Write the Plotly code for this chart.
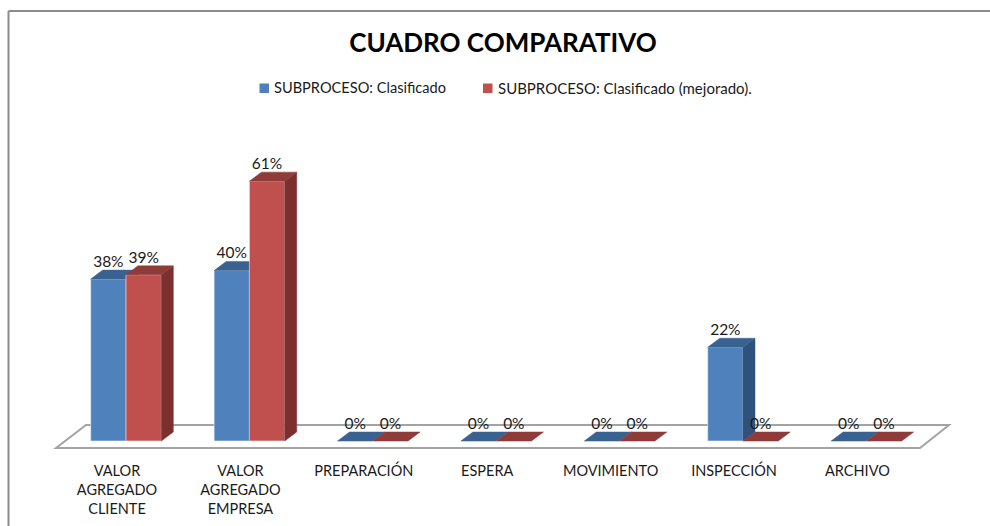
import plotly.graph_objects as go

categories = [
    "VALOR<br>AGREGADO<br>CLIENTE",
    "VALOR<br>AGREGADO<br>EMPRESA",
    "PREPARACIÓN",
    "ESPERA",
    "MOVIMIENTO",
    "INSPECCIÓN",
    "ARCHIVO",
]
clasificado = [38, 40, 0, 0, 0, 22, 0]
mejorado = [39, 61, 0, 0, 0, 0, 0]
serie_names = ["SUBPROCESO: Clasificado", "SUBPROCESO: Clasificado (mejorado)."]

FONT = "Lato, Carlito, Calibri, sans-serif"
TEXT = "#1a1a1a"
BLUE = "#4F81BD"
RED = "#C0504D"

# figure scale: one category = 123.4 px, one percent = 4.26 px
PX_X = 123.4
PX_Y = 4.26
BAR_W = 35.3 / PX_X
DEPTH_X = 12 / PX_X
DEPTH_Y = 9 / PX_Y
BOTTOM_PX = 455
PLOT_H = BOTTOM_PX

x_range = [-126 / PX_X, (990 - 126) / PX_X]
y_range = [(441 - BOTTOM_PX) / PX_Y, 441 / PX_Y]


def faces(values, offset):
    """Top and side faces of the 3d bars, as fill polygons with gaps."""
    top_x, top_y, side_x, side_y = [], [], [], []
    for i, v in enumerate(values):
        left = i + offset
        right = left + BAR_W
        top_x += [left, left + DEPTH_X, right + DEPTH_X, right, left, None]
        top_y += [v, v + DEPTH_Y, v + DEPTH_Y, v, v, None]
        if v > 0:
            side_x += [right, right + DEPTH_X, right + DEPTH_X, right, right, None]
            side_y += [v, v + DEPTH_Y, DEPTH_Y, 0, v, None]
    return top_x, top_y, side_x, side_y


def add_series(fig, values, name, offset, front, top, side, xaxis, yaxis):
    positions = list(range(len(values)))
    fig.add_trace(go.Bar(
        x=positions,
        y=values,
        name=name,
        width=BAR_W,
        offset=offset,
        marker=dict(color=front, line=dict(color="rgba(235,240,248,0.6)", width=1)),
        xaxis=xaxis,
        yaxis=yaxis,
    ))
    top_x, top_y, side_x, side_y = faces(values, offset)
    for fx, fy, color in [(side_x, side_y, side), (top_x, top_y, top)]:
        fig.add_trace(go.Scatter(
            x=fx,
            y=fy,
            mode="lines",
            fill="toself",
            fillcolor=color,
            line=dict(color=color, width=0.5),
            hoverinfo="skip",
            xaxis=xaxis,
            yaxis=yaxis,
        ))


fig = go.Figure()
add_series(fig, clasificado, serie_names[0], -BAR_W, BLUE, "#3A6291", "#2F527D", "x", "y")
add_series(fig, mejorado, serie_names[1], 0, RED, "#8F3B39", "#7B302E", "x2", "y2")

# data labels sit above the back edge of each bar
for values, shift in [(clasificado, -BAR_W / 2), (mejorado, BAR_W / 2)]:
    fig.add_trace(go.Scatter(
        x=[i + shift for i in range(len(values))],
        y=[v + 16 / PX_Y for v in values],
        mode="text",
        text=[f"{v}%" for v in values],
        textposition="middle center",
        textfont=dict(family=FONT, size=15.5, color=TEXT),
        hoverinfo="skip",
        xaxis="x2",
        yaxis="y2",
    ))

# floor of the 3d plot
floor_y0 = (441 - 448) / PX_Y
floor_y1 = (441 - 425) / PX_Y
fl = (56 - 126) / PX_X
fr = (920 - 126) / PX_X
bl = (86 - 126) / PX_X
br = (949 - 126) / PX_X
fig.add_shape(
    type="path",
    path=f"M {fl} {floor_y0} L {bl} {floor_y1} L {br} {floor_y1} L {fr} {floor_y0} Z",
    xref="x",
    yref="y",
    line=dict(color="#A3A3A3", width=2),
    fillcolor="white",
    layer="below",
)

# chart area frame, only top and left are inside the crop
frame_top = 1 - 11 / PLOT_H
frame_bottom = (BOTTOM_PX - 526) / PLOT_H
for x0, y0, x1, y1 in [
    (8.5 / 990, frame_top, 1, frame_top),
    (8.5 / 990, frame_top, 8.5 / 990, frame_bottom),
]:
    fig.add_shape(
        type="line", xref="paper", yref="paper",
        x0=x0, y0=y0, x1=x1, y1=y1,
        line=dict(color="#8C8C8C", width=2),
    )

# legend by hand, the native key sits too far from its text
for name, color, key_x, text_x, size in [
    (serie_names[0], BLUE, 259.5, 273, 14.6),
    (serie_names[1], RED, 483, 497, 15),
]:
    fig.add_shape(
        type="rect", xref="paper", yref="paper",
        x0=key_x / 990, x1=(key_x + 9.5) / 990,
        y0=1 - 93 / PLOT_H, y1=1 - 83.5 / PLOT_H,
        fillcolor=color,
        line=dict(width=0),
    )
    fig.add_annotation(
        text=name, xref="paper", yref="paper",
        x=text_x / 990, y=1 - 88 / PLOT_H,
        xanchor="left", yanchor="middle",
        showarrow=False,
        borderpad=0,
        font=dict(family=FONT, size=size, color=TEXT),
    )

fig.update_layout(
    width=990,
    height=526,
    margin=dict(l=0, r=0, t=0, b=526 - BOTTOM_PX, pad=0),
    paper_bgcolor="white",
    plot_bgcolor="white",
    font=dict(family=FONT, size=15, color=TEXT),
    showlegend=False,
    title=dict(
        text="<b>CUADRO COMPARATIVO</b>",
        font=dict(family=FONT, size=26, color="black"),
        x=503 / 990,
        xanchor="center",
        y=1 - 43 / 526,
        yanchor="middle",
    ),
    xaxis=dict(
        range=x_range,
        tickmode="array",
        # labels sit a little left of the bar pairs, as on the 3d floor
        tickvals=[i - 9 / PX_X for i in range(len(categories))],
        ticktext=categories,
        ticks="outside",
        ticklen=3,
        tickcolor="rgba(0,0,0,0)",
        tickfont=dict(family=FONT, size=14.5, color=TEXT),
        showgrid=False,
        zeroline=False,
        showline=False,
        fixedrange=True,
    ),
    yaxis=dict(range=y_range, visible=False, fixedrange=True),
    xaxis2=dict(range=x_range, overlaying="x", visible=False, fixedrange=True),
    yaxis2=dict(range=y_range, overlaying="y", visible=False, fixedrange=True),
)

fig.write_html("out.html", config={"displayModeBar": False}, post_script="document.body.style.margin='0';")
